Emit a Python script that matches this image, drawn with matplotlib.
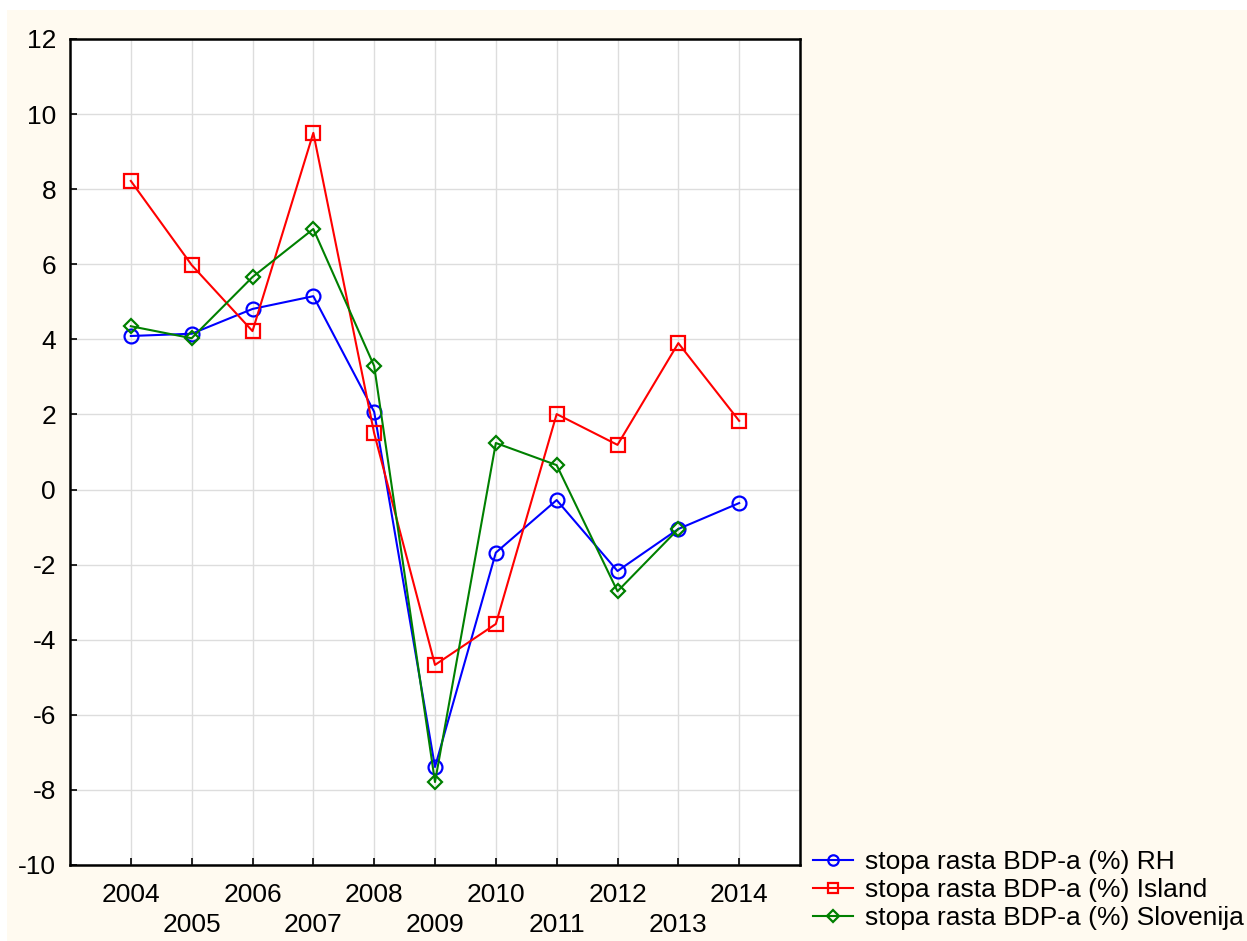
import numpy as np
import matplotlib.pyplot as plt
from matplotlib.patches import Rectangle

plt.rcParams['font.family'] = ['Liberation Sans', 'DejaVu Sans']
plt.rcParams['axes.unicode_minus'] = False

years = list(range(2004, 2015))
rh = [4.09, 4.15, 4.81, 5.15, 2.07, -7.39, -1.68, -0.28, -2.17, -1.05, -0.36]
island = [8.22, 5.98, 4.22, 9.50, 1.50, -4.67, -3.58, 2.01, 1.19, 3.90, 1.83]
slovenija = [4.35, 4.03, 5.66, 6.94, 3.29, -7.79, 1.24, 0.65, -2.71, -1.05]
labels = ['stopa rasta BDP-a (%) RH',
          'stopa rasta BDP-a (%) Island',
          'stopa rasta BDP-a (%) Slovenija']

fig = plt.figure(figsize=(12.47, 9.41), dpi=100, facecolor='white')
# cream background panel (small white border at top/left)
fig.patches.append(Rectangle((7/1247, 0), 1, 1 - 10/941, transform=fig.transFigure,
                             facecolor='#FFFAF0', edgecolor='none', zorder=-10))

ax = fig.add_axes([70/1247, 76/941, 730/1247, 826/941])
ax.set_facecolor('white')

ms = 10
ax.plot(years, rh, color='#0000FF', marker='o', mfc='none', ms=ms, mew=1.6, lw=1.5, label=labels[0])
ax.plot(years, island, color='#FF0000', marker='s', mfc='none', ms=ms, mew=1.6, lw=1.5, label=labels[1])
ax.plot(years[:len(slovenija)], slovenija, color='#008000', marker='D', mfc='none', ms=ms - 2.5,
        mew=1.6, lw=1.5, label=labels[2])

ax.set_xlim(2003, 2015)
ax.set_ylim(-10, 12)
ax.set_yticks(range(-10, 13, 2))
ax.set_xticks(years)
ax.set_xticklabels([str(y) if y % 2 == 0 else '\n' + str(y) for y in years], linespacing=1.3)

ax.grid(True, color='#DDDDDD', lw=1)
ax.set_axisbelow(True)
for s in ax.spines.values():
    s.set_linewidth(1.8)
    s.set_color('black')
ax.tick_params(direction='in', length=5, width=1.2, labelsize=19)
ax.tick_params(axis='x', pad=13)
ax.tick_params(axis='y', pad=10)

ax.legend(loc='lower left', bbox_to_anchor=(1.0, -0.095), frameon=False, fontsize=19,
          handlelength=1.5, handletextpad=0.45, labelspacing=0.15, markerscale=0.75,
          borderaxespad=0.2, borderpad=0.3)

fig.savefig('out.png', dpi=100)
